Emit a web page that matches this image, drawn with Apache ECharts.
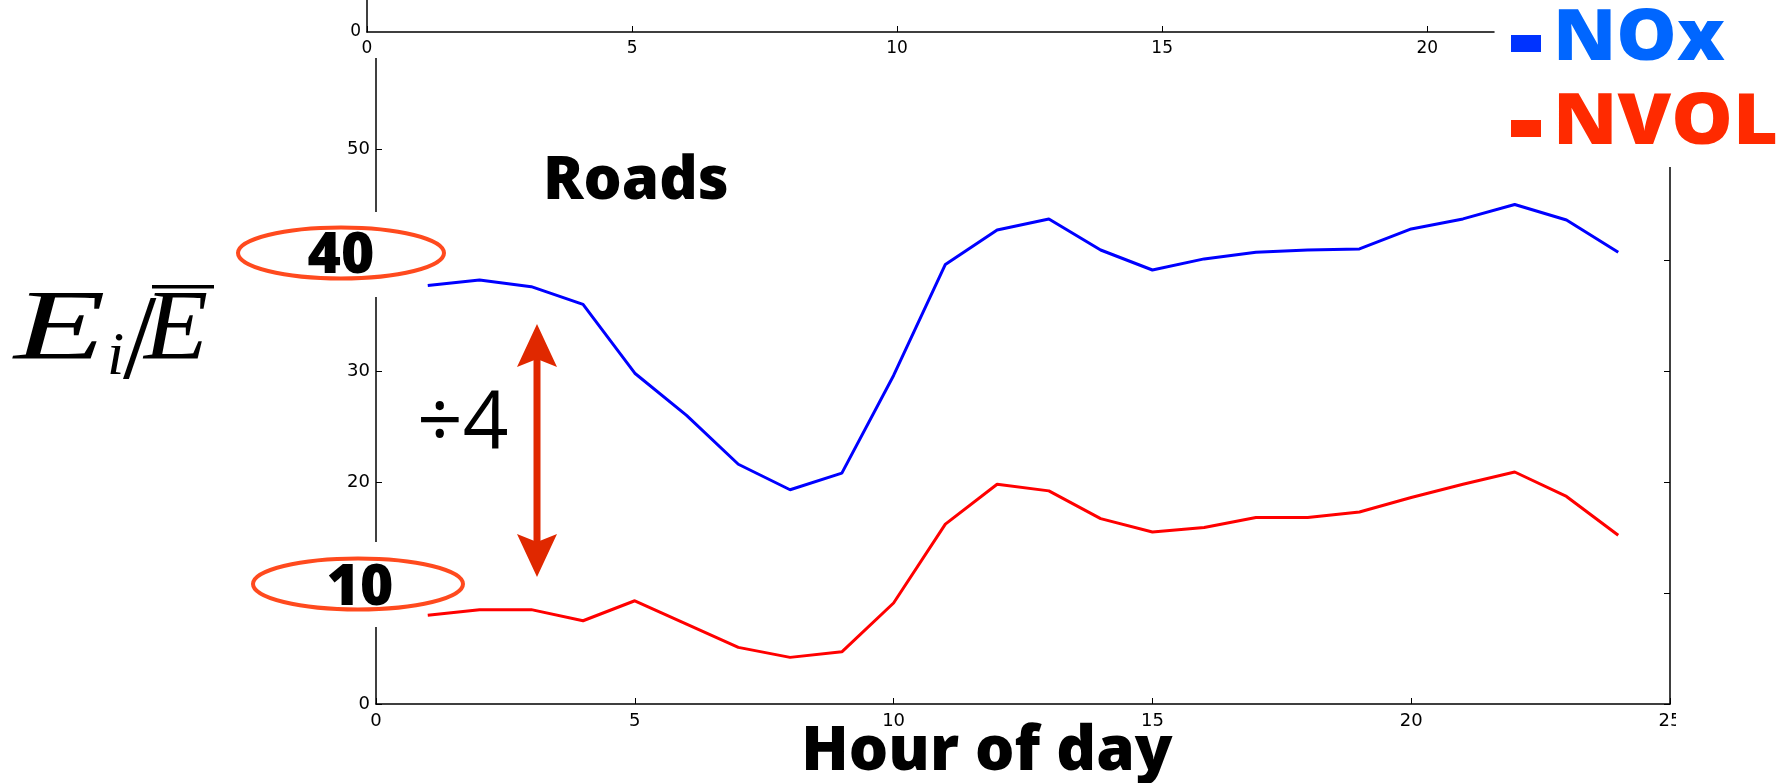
<!DOCTYPE html>
<html>
<head>
<meta charset="utf-8">
<script src="https://cdn.jsdelivr.net/npm/echarts@6/dist/echarts.min.js"></script>
<style>
  html, body { margin: 0; padding: 0; background: #fff; }
  #chart { width: 1781px; height: 783px; }
</style>
</head>
<body>
<div id="chart"></div>
<script>
// Hourly emission profiles on roads, normalised by the daily mean
const hours = [1, 2, 3, 4, 5, 6, 7, 8, 9, 10, 11, 12, 13, 14, 15, 16, 17, 18, 19, 20, 21, 22, 23, 24];
const noxValues = [37.7, 38.2, 37.6, 36.0, 29.8, 26.0, 21.6, 19.3, 20.8, 29.6, 39.6, 42.7,
                   43.7, 40.9, 39.1, 40.1, 40.7, 40.9, 41.0, 42.8, 43.7, 45.0, 43.6, 40.7];
const nvolValues = [8.0, 8.5, 8.5, 7.5, 9.3, 7.2, 5.1, 4.2, 4.7, 9.1, 16.2, 19.8,
                    19.2, 16.7, 15.5, 15.9, 16.8, 16.8, 17.3, 18.6, 19.8, 20.9, 18.7, 15.2];
const seriesNames = ['NOx', 'NVOL'];
const seriesColors = ['#0000ff', '#ff0000'];
const legendColors = ['#0066ff', '#ff2a00'];
const legendMarkColors = ['#0033ff', '#ff2a00'];
const xAxisTitle = 'Hour of day';
const panelTitle = 'Roads';
const ratioLabel = '\u00f74';
const highlightLabels = ['40', '10'];

const chart = echarts.init(document.getElementById('chart'), null, { renderer: 'canvas' });

const tickFont = { fontFamily: 'DejaVu Sans', fontSize: 18, color: '#000' };
const axisLine = { show: true, lineStyle: { color: '#000', width: 1.5 } };
const inTick = { show: true, inside: true, length: 6, lineStyle: { color: '#000', width: 1 } };

const white = '#ffffff';
const accent = '#ff4a1e';
const arrowRed = '#e02800';

function txt(text, x, y, font, color, align, extra) {
  return Object.assign({
    type: 'text', z: 30, x: x, y: y,
    style: { text: text, x: 0, y: 0, font: font, fill: color || '#000',
             textAlign: align || 'left', textVerticalAlign: 'middle' }
  }, extra || {});
}

const option = {
  animation: false,
  backgroundColor: '#fff',
  grid: [
    { left: 376, top: 38, width: 1294, height: 666, outerBoundsMode: 'none', containLabel: false },
    { left: 367, top: 0, width: 1127, height: 32, outerBoundsMode: 'none', containLabel: false }
  ],
  xAxis: [
    {
      type: 'value', gridIndex: 0, min: 0, max: 25, interval: 5,
      axisLine: axisLine, axisTick: inTick, splitLine: { show: false },
      axisLabel: Object.assign({ margin: 8 }, tickFont),
      name: xAxisTitle, nameLocation: 'middle', nameGap: 48, nameMoveOverlap: false,
      nameTextStyle: { fontFamily: 'Open Sans', fontWeight: 800, fontSize: 62, color: '#000',
                       verticalAlign: 'middle', padding: [0, 72, 0, 0] }
    },
    {
      type: 'value', gridIndex: 1, min: 0, max: 21.26, interval: 5, z: 10,
      axisLine: axisLine, axisTick: inTick, splitLine: { show: false },
      axisLabel: Object.assign({ margin: 8, showMaxLabel: false }, tickFont, { fontSize: 17 })
    }
  ],
  yAxis: [
    {
      type: 'value', gridIndex: 0, min: 0, max: 60, interval: 10, position: 'left',
      axisLine: axisLine, axisTick: inTick, splitLine: { show: false },
      axisLabel: Object.assign({ margin: 6 }, tickFont)
    },
    {
      type: 'value', gridIndex: 0, min: 0, max: 60, interval: 10, position: 'right',
      axisLine: axisLine, axisTick: inTick, splitLine: { show: false },
      axisLabel: { show: false }
    },
    {
      type: 'value', gridIndex: 1, min: 0, max: 100, interval: 100, z: 10,
      axisLine: axisLine, axisTick: { show: false }, splitLine: { show: false },
      axisLabel: Object.assign({ margin: 6, showMaxLabel: false }, tickFont, { fontSize: 17 })
    }
  ],
  series: [
    {
      name: seriesNames[0], type: 'line', xAxisIndex: 0, yAxisIndex: 0,
      data: hours.map((h, i) => [h, noxValues[i]]),
      showSymbol: false, lineStyle: { color: seriesColors[0], width: 3 },
      itemStyle: { color: seriesColors[0] }
    },
    {
      name: seriesNames[1], type: 'line', xAxisIndex: 0, yAxisIndex: 0,
      data: hours.map((h, i) => [h, nvolValues[i]]),
      showSymbol: false, lineStyle: { color: seriesColors[1], width: 3 },
      itemStyle: { color: seriesColors[1] }
    }
  ],
  graphic: [
    // white panels over the frame edges
    { type: 'rect', z: 5, shape: { x: 0, y: 0, width: 1781, height: 58 }, style: { fill: white } },
    { type: 'rect', z: 5, shape: { x: 1500, y: 0, width: 281, height: 167 }, style: { fill: white } },
    { type: 'rect', z: 5, shape: { x: 1676, y: 708, width: 105, height: 35 }, style: { fill: white } },
    { type: 'rect', z: 5, shape: { x: 336, y: 212, width: 56, height: 85 }, style: { fill: white } },
    { type: 'rect', z: 5, shape: { x: 336, y: 542, width: 56, height: 85 }, style: { fill: white } },

    // circled reference levels
    { type: 'ellipse', z: 20, shape: { cx: 341, cy: 253, rx: 103, ry: 25.5 },
      style: { fill: white, stroke: accent, lineWidth: 4 } },
    txt(highlightLabels[0], 341, 257, '800 57px "Open Sans"', '#000', 'center'),
    { type: 'ellipse', z: 20, shape: { cx: 358, cy: 584, rx: 105, ry: 25.5 },
      style: { fill: white, stroke: accent, lineWidth: 4 } },
    txt(highlightLabels[1], 360, 589, '800 57px "Open Sans"', '#000', 'center'),

    // double-headed ratio arrow
    { type: 'rect', z: 20, shape: { x: 533.5, y: 355, width: 7, height: 190 }, style: { fill: arrowRed } },
    { type: 'polygon', z: 20, shape: { points: [[537, 324], [557, 367], [537, 359], [517, 367]] },
      style: { fill: arrowRed } },
    { type: 'polygon', z: 20, shape: { points: [[537, 577], [557, 534], [537, 542], [517, 534]] },
      style: { fill: arrowRed } },
    txt(ratioLabel, 417, 425, '400 80px "Open Sans"', '#000', 'left'),

    // panel title
    txt(panelTitle, 543, 182, '800 60px "Open Sans"', '#000', 'left'),

    // legend
    { type: 'rect', z: 30, shape: { x: 1511, y: 35, width: 30, height: 17 }, style: { fill: legendMarkColors[0] } },
    txt(seriesNames[0], 1553, 40, '800 71px "Open Sans"', legendColors[0], 'left', { scaleX: 1.07 }),
    { type: 'rect', z: 30, shape: { x: 1511, y: 120, width: 30, height: 17 }, style: { fill: legendMarkColors[1] } },
    txt(seriesNames[1], 1553, 124, '800 71px "Open Sans"', legendColors[1], 'left', { scaleX: 1.09 }),

    // y-axis quantity  E_i / E-bar
    txt('E', 14, 332, 'italic 100px "Liberation Serif"', '#000', 'left', { scaleX: 1.5 }),
    txt('i', 107, 358, 'italic 62px "Liberation Serif"', '#000', 'left'),
    txt('/', 123, 346, '120px "Liberation Serif"', '#000', 'left'),
    txt('E', 144, 332, 'italic 100px "Liberation Serif"', '#000', 'left', { scaleX: 1.05 }),
    { type: 'rect', z: 30, shape: { x: 152, y: 285, width: 62, height: 3.5 }, style: { fill: '#000' } }
  ]
};

chart.setOption(option);
</script>
</body>
</html>
